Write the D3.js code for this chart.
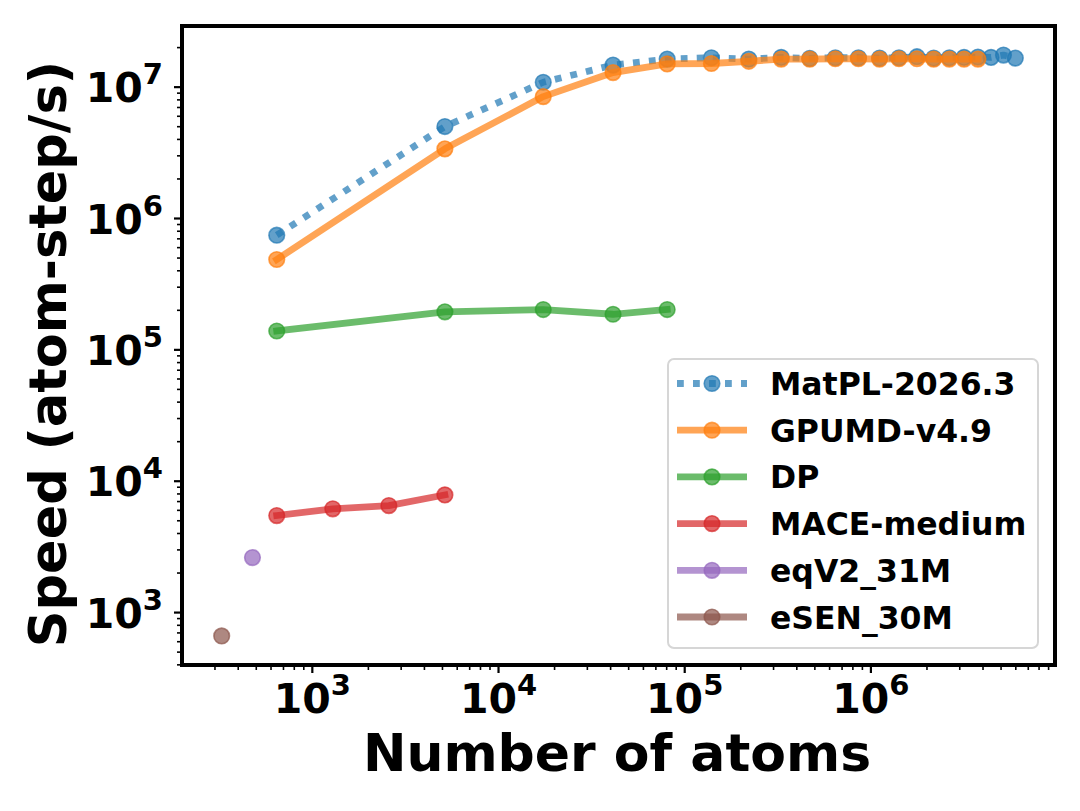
<!DOCTYPE html>
<html>
<head>
<meta charset="utf-8">
<script src="https://cdn.jsdelivr.net/npm/d3@7"></script>
<style>
  html, body { margin: 0; padding: 0; background: #fff; }
  svg { display: block; font-family: "DejaVu Sans", sans-serif; }
</style>
</head>
<body>
<svg id="chart" width="1080" height="811"></svg>
<script>
// ---------------- data ----------------
const seriesNames = ["MatPL-2026.3", "GPUMD-v4.9", "DP", "MACE-medium", "eqV2_31M", "eSEN_30M"];
const seriesColors = ["#1f77b4", "#ff7f0e", "#2ca02c", "#d62728", "#9467bd", "#8c564b"];

const matplAtoms = [648, 5184, 17496, 41472, 81000, 139968, 222264, 331776, 472392, 648000, 862488, 1119744, 1423656, 1778112, 2187000, 2654208, 3183624, 3779136, 4444632, 5184000, 6001128];
const matplSpeed = [7.4e5, 4.97e6, 1.08e7, 1.46e7, 1.62e7, 1.66e7, 1.62e7, 1.67e7, 1.64e7, 1.66e7, 1.66e7, 1.65e7, 1.66e7, 1.69e7, 1.65e7, 1.66e7, 1.67e7, 1.68e7, 1.67e7, 1.74e7, 1.65e7];

const gpumdAtoms = [648, 5184, 17496, 41472, 81000, 139968, 222264, 331776, 472392, 648000, 862488, 1119744, 1423656, 1778112, 2187000, 2654208, 3183624, 3779136];
const gpumdSpeed = [4.83e5, 3.36e6, 8.4e6, 1.28e7, 1.49e7, 1.50e7, 1.56e7, 1.62e7, 1.62e7, 1.63e7, 1.63e7, 1.62e7, 1.63e7, 1.63e7, 1.62e7, 1.62e7, 1.62e7, 1.62e7];

const dpAtoms = [648, 5184, 17496, 41472, 81000];
const dpSpeed = [1.38e5, 1.93e5, 2.01e5, 1.85e5, 2.01e5];

const maceAtoms = [648, 1296, 2592, 5184];
const maceSpeed = [5430, 6110, 6470, 7800];

const eqv2Atoms = [480];
const eqv2Speed = [2600];

const esenAtoms = [328];
const esenSpeed = [658];

const xTickValues = [1e3, 1e4, 1e5, 1e6];
const xTickExps = ["3", "4", "5", "6"];
const yTickValues = [1e3, 1e4, 1e5, 1e6, 1e7];
const yTickExps = ["3", "4", "5", "6", "7"];

const xLabel = "Number of atoms";
const yLabel = "Speed (atom-step/s)";

// ---------------- build ----------------
const series = [
  { name: seriesNames[0], color: seriesColors[0], xs: matplAtoms, ys: matplSpeed, dotted: true },
  { name: seriesNames[1], color: seriesColors[1], xs: gpumdAtoms, ys: gpumdSpeed },
  { name: seriesNames[2], color: seriesColors[2], xs: dpAtoms, ys: dpSpeed },
  { name: seriesNames[3], color: seriesColors[3], xs: maceAtoms, ys: maceSpeed },
  { name: seriesNames[4], color: seriesColors[4], xs: eqv2Atoms, ys: eqv2Speed },
  { name: seriesNames[5], color: seriesColors[5], xs: esenAtoms, ys: esenSpeed }
].map(s => ({ ...s, pts: s.xs.map((x, i) => [x, s.ys[i]]) }));

const plot = { left: 182, right: 1055, top: 26, bottom: 665 };

function logDomain(vals) {
  const lo = Math.log10(d3.min(vals)), hi = Math.log10(d3.max(vals));
  const m = (hi - lo) * 0.05;
  return [Math.pow(10, lo - m), Math.pow(10, hi + m)];
}
const allX = series.flatMap(s => s.xs);
const allY = series.flatMap(s => s.ys);

const x = d3.scaleLog().domain(logDomain(allX)).range([plot.left, plot.right]);
const y = d3.scaleLog().domain(logDomain(allY)).range([plot.bottom, plot.top]);

const svg = d3.select("#chart");
svg.append("rect").attr("width", 1080).attr("height", 811).attr("fill", "#fff");

function minorTicks(scale) {
  const [a, b] = scale.domain();
  const out = [];
  for (let e = Math.floor(Math.log10(a)); e <= Math.ceil(Math.log10(b)); e++) {
    for (let k = 2; k <= 9; k++) {
      const v = k * Math.pow(10, e);
      if (v >= a && v <= b) out.push(v);
    }
  }
  return out;
}

// minor ticks
svg.append("g").attr("transform", `translate(0,${plot.bottom})`)
  .call(d3.axisBottom(x).tickValues(minorTicks(x)).tickFormat("").tickSize(5).tickSizeOuter(0))
  .call(g => g.select(".domain").remove())
  .call(g => g.selectAll("line").attr("stroke", "#000").attr("stroke-width", 1.6));
svg.append("g").attr("transform", `translate(${plot.left},0)`)
  .call(d3.axisLeft(y).tickValues(minorTicks(y)).tickFormat("").tickSize(5).tickSizeOuter(0))
  .call(g => g.select(".domain").remove())
  .call(g => g.selectAll("line").attr("stroke", "#000").attr("stroke-width", 1.6));

// major ticks
const xAxisG = svg.append("g").attr("transform", `translate(0,${plot.bottom})`)
  .call(d3.axisBottom(x).tickValues(xTickValues).tickFormat("").tickSize(8).tickSizeOuter(0))
  .call(g => g.select(".domain").remove())
  .call(g => g.selectAll("line").attr("stroke", "#000").attr("stroke-width", 2.2));
xAxisG.selectAll(".tick").each(function(d, i) {
  const t = d3.select(this).append("text")
    .attr("y", 48).attr("text-anchor", "middle").attr("fill", "#000")
    .attr("font-size", 41).attr("font-weight", "bold").attr("font-family", "DejaVu Sans");
  t.append("tspan").text("10");
  t.append("tspan").attr("font-size", 29).attr("dy", -18).text(xTickExps[i]);
});

const yAxisG = svg.append("g").attr("transform", `translate(${plot.left},0)`)
  .call(d3.axisLeft(y).tickValues(yTickValues).tickFormat("").tickSize(8).tickSizeOuter(0))
  .call(g => g.select(".domain").remove())
  .call(g => g.selectAll("line").attr("stroke", "#000").attr("stroke-width", 2.2));
yAxisG.selectAll(".tick").each(function(d, i) {
  const t = d3.select(this).append("text")
    .attr("x", -19).attr("y", 15).attr("text-anchor", "end").attr("fill", "#000")
    .attr("font-size", 41).attr("font-weight", "bold").attr("font-family", "DejaVu Sans");
  t.append("tspan").text("10");
  t.append("tspan").attr("font-size", 29).attr("dy", -18).text(yTickExps[i]);
});

// clip
svg.append("clipPath").attr("id", "clip").append("rect")
  .attr("x", plot.left).attr("y", plot.top)
  .attr("width", plot.right - plot.left).attr("height", plot.bottom - plot.top);

const dataG = svg.append("g").attr("clip-path", "url(#clip)");
const line = d3.line().x(d => x(d[0])).y(d => y(d[1]));

series.forEach(s => {
  const g = dataG.append("g");
  if (s.pts.length > 1) {
    g.append("path").datum(s.pts)
      .attr("d", line)
      .attr("fill", "none")
      .attr("stroke", s.color)
      .attr("stroke-opacity", 0.7)
      .attr("stroke-width", 6.8)
      .attr("stroke-linejoin", "round")
      .attr("stroke-linecap", s.dotted ? "butt" : "square")
      .attr("stroke-dasharray", s.dotted ? "6.8,9.2" : null);
  }
  g.selectAll("circle").data(s.pts).join("circle")
    .attr("cx", d => x(d[0])).attr("cy", d => y(d[1]))
    .attr("r", 7.8)
    .attr("fill", s.color).attr("fill-opacity", 0.7)
    .attr("stroke", s.color).attr("stroke-opacity", 0.7).attr("stroke-width", 1.6);
});

// frame
svg.append("rect")
  .attr("x", plot.left).attr("y", plot.top)
  .attr("width", plot.right - plot.left).attr("height", plot.bottom - plot.top)
  .attr("fill", "none").attr("stroke", "#000").attr("stroke-width", 4);

// axis labels
svg.append("text")
  .attr("x", 617).attr("y", 771)
  .attr("text-anchor", "middle").attr("font-size", 52).attr("font-weight", "bold")
  .attr("font-family", "DejaVu Sans").attr("fill", "#000")
  .text(xLabel);
svg.append("text")
  .attr("transform", `translate(66,${354}) rotate(-90)`)
  .attr("text-anchor", "middle").attr("font-size", 51).attr("font-weight", "bold")
  .attr("font-family", "DejaVu Sans").attr("fill", "#000")
  .text(yLabel);

// legend
const leg = { x: 668, y: 359, w: 370, h: 289, rowY0: 383.5, rowStep: 46.7 };
const lg = svg.append("g");
lg.append("rect")
  .attr("x", leg.x).attr("y", leg.y).attr("width", leg.w).attr("height", leg.h)
  .attr("rx", 6).attr("ry", 6)
  .attr("fill", "#fff").attr("fill-opacity", 0.8)
  .attr("stroke", "#d6d6d6").attr("stroke-width", 2);
series.forEach((s, i) => {
  const cy = leg.rowY0 + i * leg.rowStep;
  const row = lg.append("g");
  row.append("line")
    .attr("x1", 677).attr("x2", 747).attr("y1", cy).attr("y2", cy)
    .attr("stroke", s.color).attr("stroke-opacity", 0.7).attr("stroke-width", 6.8)
    .attr("stroke-dasharray", s.dotted ? "6.8,9.2" : null);
  row.append("circle")
    .attr("cx", 712).attr("cy", cy).attr("r", 7.8)
    .attr("fill", s.color).attr("fill-opacity", 0.7)
    .attr("stroke", s.color).attr("stroke-opacity", 0.7).attr("stroke-width", 1.6);
  row.append("text")
    .attr("x", 770).attr("y", cy + 11.5)
    .attr("font-size", 31.5).attr("font-weight", "bold")
    .attr("font-family", "DejaVu Sans").attr("fill", "#000")
    .text(s.name);
});
</script>
</body>
</html>
